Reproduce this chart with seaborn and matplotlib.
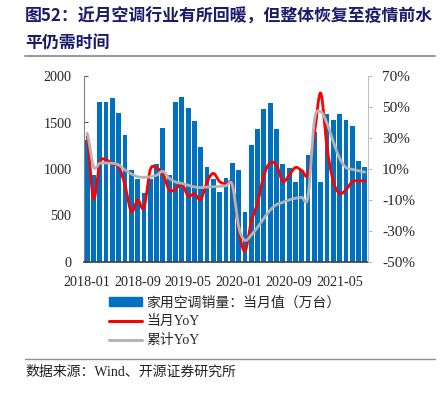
import numpy as np
import pandas as pd
import matplotlib
matplotlib.use("Agg")
import matplotlib.pyplot as plt
from matplotlib.patches import Patch
from matplotlib.lines import Line2D
import seaborn as sns

# ---------------- data ----------------
months = pd.date_range("2018-01", "2021-09", freq="MS").strftime("%Y-%m").tolist()
sales = [1311, 935, 1723, 1716, 1759, 1598, 1365, 989, 892, 738, 889, 1057,
         1437, 935, 1723, 1770, 1652, 1516, 1240, 1018, 892, 756, 907, 1060,
         985, 534, 1258, 1430, 1641, 1713, 1433, 1050, 1007, 857, 989, 1150,
         1401, 863, 1591, 1527, 1591, 1527, 1462, 1086, 1018]
yoy_month = [31, -9, 14, 16, 13, 11.5, -0.5, -17.5, -10, -15, 9.5, 10.5,
             7, -3.5, -3, 0.3, -7.4, -6, -9.6, 1.8, 7.2, 1.8, 0.3, -0.3,
             -29, -43, -24, -12, 6, 14, 12.5, 2, 6, 11, 9, 6.5,
             32, 59, 24, 2, -5.7, -3.5, 1.8, 2.3, 2.3]
yoy_cum = [33, 11.5, 13.7, 13.9, 13.7, 12.6, 9.4, 6.8, 5, 4.7, 5, 6,
           8.5, 4, 1.6, 0.8, -0.5, -1.6, -2, -1.6, -1.4, -1.2, -0.8, -0.3,
           -27, -36, -32.6, -27.6, -21.8, -16.5, -13, -11.5, -10, -8.9, -8.3, -7.8,
           41, 47, 39.5, 27.6, 16.9, 11, 9.8, 8.9, 8]
tick_labels = ["2018-01", "2018-09", "2019-05", "2020-01", "2020-09", "2021-05"]

title_l1 = "图52：近月空调行业有所回暖，但整体恢复至疫情前水"
title_l2 = "平仍需时间"
legend_labels = ["家用空调销量：当月值（万台）", "当月YoY", "累计YoY"]
source = "数据来源：Wind、开源证券研究所"

# ---------------- style ----------------
sns.set_style("white")
plt.rcParams["font.family"] = ["Liberation Serif", "Noto Sans CJK SC"]
plt.rcParams["axes.unicode_minus"] = False

W, H = 445, 394
fig = plt.figure(figsize=(W / 100, H / 100), dpi=100)
ax = fig.add_axes([84 / W, 1 - 262 / H, (368 - 84) / W, (262 - 76) / H])

BLUE = "#0070C0"
RED = "#FF0000"
GRAY = "#B4B4B4"

df = pd.DataFrame({"month": months, "sales": sales})
sns.barplot(data=df, x="month", y="sales", color=BLUE, saturation=1,
            width=0.76, ax=ax, linewidth=0)
ax.set_xlim(-0.5, len(months) - 0.5)
ax.set_ylim(0, 2000)
ax.set_yticks([0, 500, 1000, 1500, 2000])
ax.set_xlabel("")
ax.set_ylabel("")

pos = [months.index(m) for m in tick_labels]
ax.set_xticks(pos)
ax.set_xticklabels(tick_labels)
ax.set_xticks([p - 0.5 for p in pos], minor=True)
ax.tick_params(axis="x", which="major", length=0, pad=10, labelsize=10.2)
ax.tick_params(axis="x", which="minor", length=3, direction="in", color="#404040")
ax.tick_params(axis="y", length=3, direction="in", pad=9, labelsize=10.2, color="#606060")

for s in ["top", "right"]:
    ax.spines[s].set_visible(False)
ax.spines["left"].set_color("#808080")
ax.spines["bottom"].set_color("#404040")
ax.spines["bottom"].set_linewidth(1.2)


def smooth(vals, n=24):
    y = np.asarray(vals, float)
    p = np.concatenate([[y[0]], y, [y[-1]]])
    t = np.linspace(0, 1, n, endpoint=False)
    xs, ys = [], []
    for i in range(len(y) - 1):
        p0, p1, p2, p3 = p[i], p[i + 1], p[i + 2], p[i + 3]
        seg = 0.5 * (2 * p1 + (-p0 + p2) * t + (2 * p0 - 5 * p1 + 4 * p2 - p3) * t ** 2
                     + (-p0 + 3 * p1 - 3 * p2 + p3) * t ** 3)
        xs.append(i + t)
        ys.append(seg)
    xs.append([len(y) - 1])
    ys.append([y[-1]])
    return np.concatenate(xs), np.concatenate(ys)


ax2 = ax.twinx()
xr, yr = smooth(yoy_month)
xg, yg = smooth(yoy_cum)
sns.lineplot(x=xr, y=yr, ax=ax2, color=RED, linewidth=2.0, zorder=3, sort=False)
sns.lineplot(x=xg, y=yg, ax=ax2, color=GRAY, linewidth=2.0, zorder=4, sort=False)
ax2.set_xlim(-0.5, len(months) - 0.5)
ax2.set_ylim(-50, 70)
ax2.set_yticks(np.arange(-50, 71, 20))
ax2.set_yticklabels([f"{v}%" for v in range(-50, 71, 20)])
ax2.tick_params(axis="y", length=3, direction="out", pad=7, labelsize=11, color="#BFBFBF")
for s in ["top", "left", "bottom"]:
    ax2.spines[s].set_visible(False)
ax2.spines["right"].set_color("#BFBFBF")
ax2.set_ylabel("")
if ax2.get_legend():
    ax2.get_legend().remove()

handles = [Patch(facecolor=BLUE, edgecolor=BLUE),
           Line2D([], [], color=RED, lw=2.2),
           Line2D([], [], color=GRAY, lw=2.2)]
fig.legend(handles, legend_labels, loc="upper left",
           bbox_to_anchor=(109 / W, 1 - 296 / H), frameon=False,
           fontsize=10, handlelength=2.4, handleheight=0.55, handletextpad=0.3,
           labelspacing=0.42, borderpad=0, borderaxespad=0)

NAVY = "#1B1B6B"
fig.text(25 / W, 1 - 17 / H, title_l1, fontsize=12.2, fontweight="bold",
         color=NAVY, va="center", ha="left", family=["Noto Sans CJK SC", "DejaVu Sans"])
fig.text(25 / W, 1 - 43 / H, title_l2, fontsize=12.2, fontweight="bold",
         color=NAVY, va="center", ha="left", family=["Noto Sans CJK SC", "DejaVu Sans"])
fig.add_artist(Line2D([25 / W, 435 / W], [1 - 56 / H] * 2, transform=fig.transFigure,
                      color="#909090", lw=1.3))
fig.add_artist(Line2D([25 / W, 435 / W], [1 - 359 / H] * 2, transform=fig.transFigure,
                      color="#909090", lw=1.0))
fig.text(25 / W, 1 - 372 / H, source, fontsize=10, color="#222222", va="center", ha="left")

fig.savefig("out.png", dpi=100)
